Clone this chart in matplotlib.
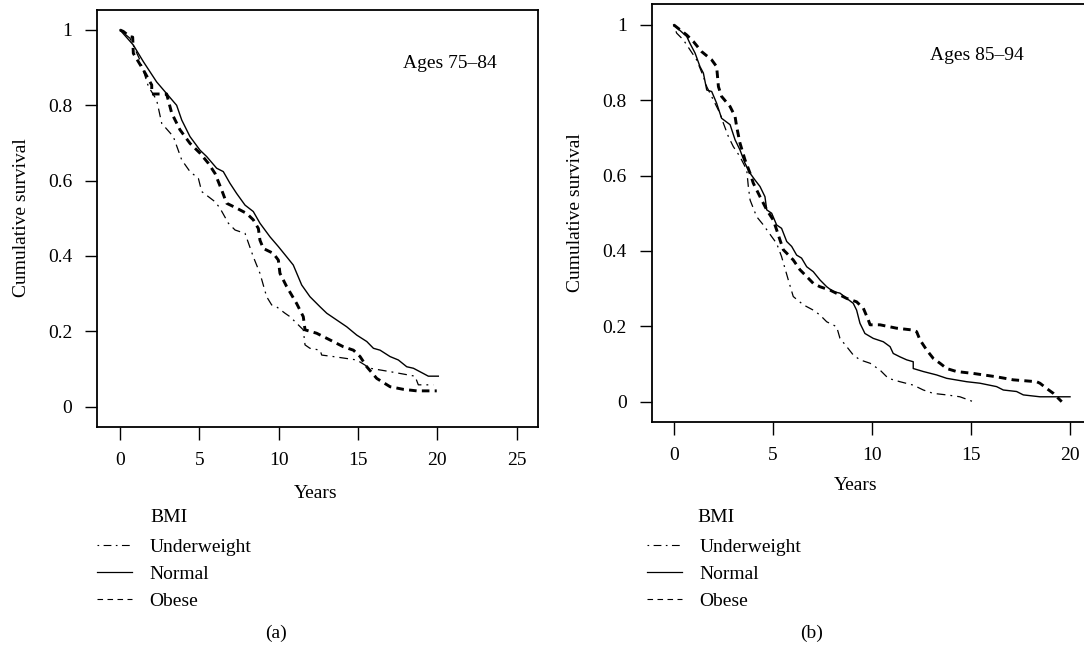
import matplotlib.pyplot as plt
from matplotlib.lines import Line2D

plt.rcParams['font.family'] = ['Liberation Serif', 'DejaVu Serif']
plt.rcParams['font.size'] = 14

# panel (a), ages 75-84
a_norm_x = [0, 0.84, 1.47, 2.31, 3.57, 3.89, 4.41, 5.04, 5.46, 6.09, 6.51, 6.93, 7.35, 7.88, 8.40,
            8.82, 9.45, 9.98, 10.50, 10.92, 11.45, 11.97, 12.61, 13.03, 13.66, 14.29, 14.92, 15.55,
            15.97, 16.39, 17.02, 17.54, 18.07, 18.49, 19.12, 19.43, 20.06]
a_norm_y = [1.0, 0.960, 0.916, 0.862, 0.800, 0.761, 0.717, 0.681, 0.664, 0.633, 0.624, 0.593, 0.566,
            0.535, 0.518, 0.487, 0.451, 0.425, 0.398, 0.376, 0.323, 0.292, 0.265, 0.248, 0.230, 0.212,
            0.190, 0.173, 0.155, 0.150, 0.133, 0.124, 0.106, 0.102, 0.088, 0.081, 0.081]
a_obese_x = [0, 0.21, 0.63, 0.80, 0.84, 1.47, 2.00, 2.00, 2.94, 3.26, 3.78, 4.41, 5.04, 5.57, 5.99,
             6.41, 6.72, 7.35, 7.98, 8.40, 8.72, 8.82, 9.03, 9.66, 9.98, 10.08, 10.50, 11.13, 11.55,
             11.66, 12.39, 13.24, 14.08, 14.71, 15.13, 15.55, 16.18, 17.02, 17.86, 18.70, 19.96]
a_obese_y = [1.0, 0.996, 0.982, 0.981, 0.938, 0.894, 0.854, 0.830, 0.830, 0.779, 0.735, 0.699, 0.673,
             0.646, 0.619, 0.575, 0.540, 0.527, 0.513, 0.496, 0.473, 0.442, 0.420, 0.407, 0.389, 0.354,
             0.319, 0.274, 0.239, 0.204, 0.195, 0.177, 0.159, 0.150, 0.133, 0.106, 0.075, 0.053, 0.046,
             0.042, 0.042]
a_under_x = [0, 0.63, 1.26, 1.79, 2.31, 2.63, 3.36, 3.89, 4.41, 4.94, 5.15, 5.99, 6.30, 6.83, 7.25,
             7.88, 8.40, 8.82, 9.24, 9.56, 9.87, 10.40, 10.71, 11.24, 11.55, 11.66, 11.97, 12.61, 12.71,
             13.45, 14.92, 15.76, 17.02, 18.59, 18.80, 19.75]
a_under_y = [1.0, 0.978, 0.920, 0.850, 0.814, 0.752, 0.717, 0.655, 0.624, 0.606, 0.571, 0.544, 0.527,
             0.487, 0.469, 0.460, 0.398, 0.354, 0.292, 0.270, 0.265, 0.248, 0.239, 0.217, 0.204, 0.164,
             0.155, 0.150, 0.137, 0.133, 0.124, 0.102, 0.093, 0.081, 0.058, 0.058]

# panel (b), ages 85-94
b_norm_x = [0, 0.66, 0.82, 1.08, 1.33, 1.50, 1.67, 1.92, 2.17, 2.42, 2.85, 3.10, 3.35, 3.60, 3.86,
            4.11, 4.36, 4.61, 4.70, 4.95, 5.20, 5.45, 5.71, 5.96, 6.21, 6.46, 6.72, 7.05, 7.39, 7.73,
            8.06, 8.40, 8.74, 9.07, 9.24, 9.41, 9.66, 10.08, 10.59, 10.93, 11.09, 11.43, 11.77, 12.10,
            12.10, 12.61, 13.28, 13.79, 14.80, 15.47, 16.31, 16.65, 17.32, 17.66, 18.50, 20.02]
b_norm_y = [1.0, 0.969, 0.951, 0.925, 0.889, 0.872, 0.827, 0.823, 0.792, 0.752, 0.735, 0.695, 0.668,
            0.633, 0.606, 0.588, 0.571, 0.544, 0.509, 0.500, 0.469, 0.460, 0.425, 0.412, 0.389, 0.381,
            0.358, 0.345, 0.323, 0.305, 0.292, 0.288, 0.274, 0.261, 0.243, 0.208, 0.181, 0.168, 0.159,
            0.146, 0.128, 0.119, 0.111, 0.106, 0.088, 0.080, 0.071, 0.062, 0.053, 0.049, 0.040, 0.031,
            0.027, 0.018, 0.013, 0.013]
b_obese_x = [0, 0.66, 0.99, 1.41, 1.92, 2.17, 2.26, 2.42, 2.85, 3.10, 3.18, 3.35, 3.60, 3.86, 4.02,
             4.36, 4.70, 5.03, 5.20, 5.37, 5.54, 5.71, 6.04, 6.38, 6.72, 7.05, 7.39, 7.90, 8.40, 8.74,
             9.24, 9.58, 9.83, 9.92, 10.42, 11.26, 12.10, 12.27, 12.44, 12.78, 13.11, 13.45, 13.79,
             14.29, 15.13, 16.31, 17.15, 18.33, 18.50, 18.84, 19.18, 19.60]
b_obese_y = [1.0, 0.973, 0.956, 0.929, 0.907, 0.889, 0.836, 0.810, 0.783, 0.757, 0.730, 0.686, 0.642,
             0.606, 0.580, 0.544, 0.509, 0.482, 0.456, 0.429, 0.403, 0.394, 0.376, 0.350, 0.332, 0.314,
             0.305, 0.296, 0.283, 0.274, 0.265, 0.248, 0.217, 0.204, 0.204, 0.195, 0.190, 0.186, 0.164,
             0.137, 0.115, 0.102, 0.088, 0.080, 0.075, 0.066, 0.058, 0.053, 0.049, 0.035, 0.022, 0.0]
b_under_x = [0, 0.15, 0.49, 0.82, 1.16, 1.50, 1.67, 2.00, 2.34, 2.51, 2.76, 3.01, 3.35, 3.69, 3.77,
             3.86, 4.19, 4.53, 4.95, 5.20, 5.45, 5.79, 6.04, 6.55, 7.05, 7.39, 7.73, 8.23, 8.40, 8.74,
             9.07, 9.41, 9.92, 10.42, 10.84, 11.43, 12.10, 12.61, 13.11, 13.79, 14.46, 15.13]
b_under_y = [1.0, 0.978, 0.960, 0.934, 0.907, 0.863, 0.836, 0.801, 0.765, 0.739, 0.704, 0.677, 0.650,
             0.615, 0.571, 0.535, 0.491, 0.469, 0.438, 0.420, 0.385, 0.323, 0.279, 0.257, 0.243, 0.230,
             0.212, 0.199, 0.168, 0.146, 0.124, 0.111, 0.102, 0.084, 0.062, 0.053, 0.044, 0.031, 0.022,
             0.018, 0.013, 0.0]

yticks = [0, 0.2, 0.4, 0.6, 0.8, 1]
ytick_labels = ['0', '0.2', '0.4', '0.6', '0.8', '1']
bmi_labels = ['Underweight', 'Normal', 'Obese']

under_style = dict(color='black', lw=0.9, linestyle=(0, (1.5, 4, 7, 4)))
norm_style = dict(color='black', lw=1.0, linestyle='-')
obese_style = dict(color='black', lw=2.1, linestyle=(0, (2.6, 1.8)))

fig = plt.figure(figsize=(10.84, 6.48), dpi=100)
ax1 = fig.add_axes([0.0899, 0.3410, 0.4064, 0.6436])
ax2 = fig.add_axes([0.6012, 0.3483, 0.4071, 0.6448])

panels = [
    (ax1, a_under_x, a_under_y, a_norm_x, a_norm_y, a_obese_x, a_obese_y,
     (-1.42, 26.34), (-0.054, 1.053), [0, 5, 10, 15, 20, 25], 'Ages 75\u201384', (20.76, 0.912)),
    (ax2, b_under_x, b_under_y, b_norm_x, b_norm_y, b_obese_x, b_obese_y,
     (-1.11, 21.18), (-0.0547, 1.054), [0, 5, 10, 15, 20], 'Ages 85\u201394', (15.32, 0.918)),
]

for ax, ux, uy, nx, ny, ox, oy, xl, yl, xt, title, tpos in panels:
    ax.plot(ux, uy, **under_style)
    ax.plot(nx, ny, **norm_style)
    ax.plot(ox, oy, **obese_style)
    ax.set_xlim(*xl)
    ax.set_ylim(*yl)
    ax.set_xticks(xt)
    ax.set_yticks(yticks)
    ax.set_yticklabels(ytick_labels)
    ax.tick_params(direction='out', length=9, width=1.0, pad=9, labelsize=14)
    for s in ax.spines.values():
        s.set_linewidth(1.3)
    ax.text(tpos[0], tpos[1], title, ha='center', va='center', fontsize=14)

# axis labels
fig.text(22 / 1084, 1 - 218 / 648, 'Cumulative survival', rotation=90, ha='center', va='center')
fig.text(575 / 1084, 1 - 213 / 648, 'Cumulative survival', rotation=90, ha='center', va='center')
fig.text(316 / 1084, 1 - 493 / 648, 'Years', ha='center', va='center')
fig.text(856 / 1084, 1 - 486 / 648, 'Years', ha='center', va='center')

# legends
handles = [Line2D([], [], color='black', lw=0.8, linestyle=(0, (1.5, 4, 7, 4))),
           Line2D([], [], color='black', lw=0.9),
           Line2D([], [], color='black', lw=0.8, linestyle=(0, (5, 4)))]
for bx, tx, ty in [(97, 150, 517), (647, 697, 518)]:
    fig.text(tx / 1084, 1 - ty / 648, 'BMI', ha='left', va='center')
    fig.legend(handles, bmi_labels, loc='upper left', bbox_to_anchor=(bx / 1084, 1 - 538 / 648),
               frameon=False, borderpad=0, borderaxespad=0, handlelength=1.8,
               handletextpad=0.9, labelspacing=0.48, fontsize=14)

fig.text(276 / 1084, 1 - 633 / 648, '(a)', ha='center', va='center')
fig.text(812 / 1084, 1 - 633 / 648, '(b)', ha='center', va='center')

fig.savefig('out.png', dpi=100)
